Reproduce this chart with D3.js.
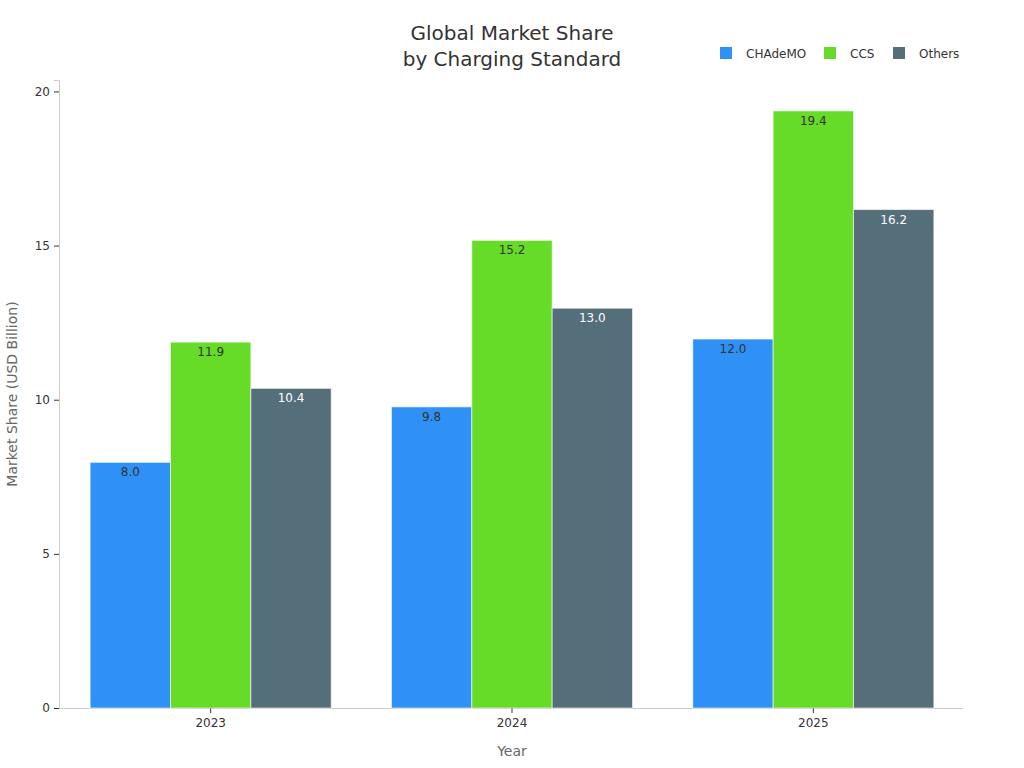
<!DOCTYPE html>
<html><head><meta charset="utf-8">
<script src="https://cdn.jsdelivr.net/npm/d3@7"></script>
<style>body{margin:0;background:#fff;font-family:"DejaVu Sans",sans-serif;}</style>
</head><body><svg id="c" width="1024" height="768"></svg>
<script>
const years = ["2023", "2024", "2025"];
const seriesNames = ["CHAdeMO", "CCS", "Others"];
const chademo = [8.0, 9.8, 12.0];
const ccs = [11.9, 15.2, 19.4];
const others = [10.4, 13.0, 16.2];
const yTicks = [0, 5, 10, 15, 20];
const colors = ["#2f91f5", "#66db28", "#546e7a"];
const labelColors = ["#333333", "#333333", "#ffffff"];

const seriesValues = [chademo, ccs, others];
const svg = d3.select("#c");
const m = {l: 59, r: 61, t: 80, b: 60};
const W = 1024, H = 768;
const x0 = d3.scaleBand().domain(years).range([m.l + 1, W - m.r + 1]).paddingInner(0.2).paddingOuter(0.1);
const x1 = d3.scaleBand().domain(seriesNames).range([0, x0.bandwidth()]);
const y = d3.scaleLinear().domain([0, 20.37]).range([H - m.b, m.t]);
const yAxisScale = d3.scaleLinear().domain([0, 20.37]).range([H - m.b, m.t + 0.5]);

// axes
const ya = svg.append("g").attr("transform", `translate(${m.l},0)`)
  .call(d3.axisLeft(y).tickValues(yTicks).tickSize(5).tickPadding(4));
ya.select(".domain").attr("stroke", "#cccccc");
ya.selectAll(".tick line").attr("stroke", "#333");
ya.selectAll("text").attr("fill", "#333").style("font-size", "12px").style("font-family", "DejaVu Sans");

const xa = svg.append("g").attr("transform", `translate(0,${H - m.b})`)
  .call(d3.axisBottom(x0).tickSize(5).tickPadding(5).tickSizeOuter(0));
xa.select(".domain").attr("stroke", "#cccccc").attr("d", `M${m.l},0.5H${W - m.r}`);
xa.selectAll(".tick line").attr("stroke", "#333");
xa.selectAll("text").attr("fill", "#333").style("font-size", "12px").style("font-family", "DejaVu Sans");

// bars
years.forEach((yr, i) => {
  const g = svg.append("g").attr("transform", `translate(${x0(yr)},0)`);
  seriesNames.forEach((s, j) => {
    const v = seriesValues[j][i];
    g.append("rect").attr("x", x1(s)).attr("y", y(v) + 1)
      .attr("width", x1.bandwidth()).attr("height", y(0) - y(v) - 1)
      .attr("fill", colors[j]).attr("stroke", "#ffffff").attr("stroke-width", 1).attr("stroke-opacity", 0.6);
    g.append("text").attr("x", x1(s) + x1.bandwidth() / 2).attr("y", y(v) + 15)
      .attr("text-anchor", "middle").attr("fill", labelColors[j])
      .style("font-size", "12px").style("font-family", "DejaVu Sans").text(v.toFixed(1));
  });
});

// title
const title = svg.append("text").attr("x", 512).attr("text-anchor", "middle")
  .attr("fill", "#333").style("font-size", "20px").style("font-family", "DejaVu Sans");
title.append("tspan").attr("x", 512).attr("y", 40).text("Global Market Share");
title.append("tspan").attr("x", 512).attr("y", 66).text("by Charging Standard");

// axis titles
svg.append("text").attr("x", 512).attr("y", 756).attr("text-anchor", "middle")
  .attr("fill", "#666").style("font-size", "14px").text("Year");
svg.append("text").attr("transform", "translate(17,394) rotate(-90)").attr("text-anchor", "middle")
  .attr("fill", "#666").style("font-size", "14px").text("Market Share (USD Billion)");

// legend
const legX = [720, 824, 893];
seriesNames.forEach((s, j) => {
  svg.append("rect").attr("x", legX[j]).attr("y", 47).attr("width", 12).attr("height", 12).attr("fill", colors[j]);
  svg.append("text").attr("x", legX[j] + 26).attr("y", 58).attr("fill", "#333")
    .style("font-size", "12px").text(s);
});
</script></body></html>
